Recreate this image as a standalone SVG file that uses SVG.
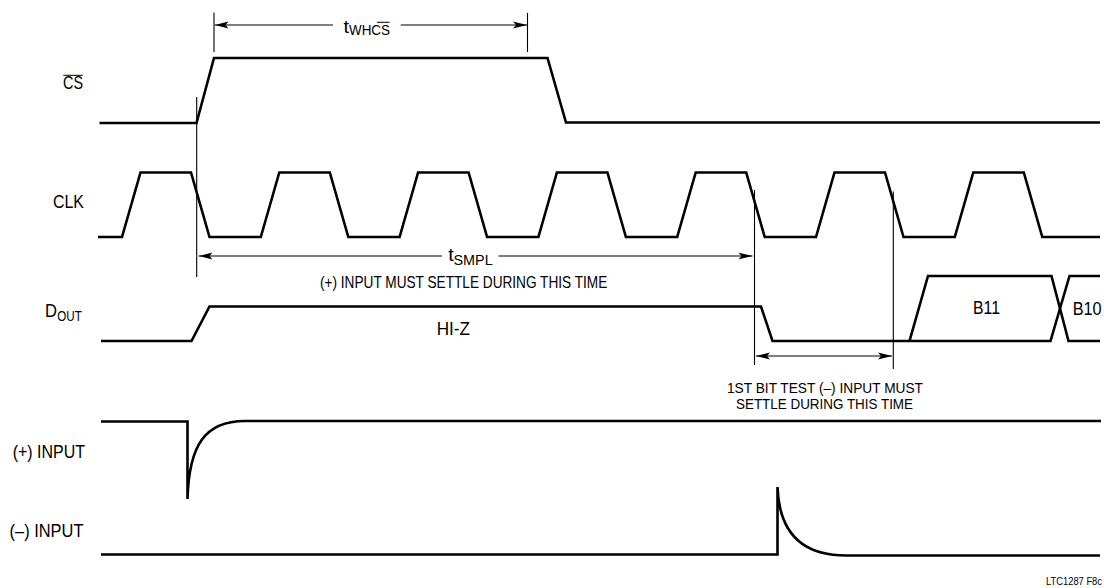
<svg xmlns="http://www.w3.org/2000/svg" width="1104" height="588" viewBox="0 0 1104 588">
<style>
.w{fill:none;stroke:#000;stroke-width:2.6;stroke-linejoin:miter;stroke-linecap:butt}
.t{fill:none;stroke:#000;stroke-width:1.1}
.ol{stroke:#000;stroke-width:1}
text{font-family:"Liberation Sans",Arial,sans-serif;fill:#000}
.lb{font-size:18.5px}
.an{font-size:16.5px}
.an2{font-size:14.2px}
.sb{font-size:14px}
</style>
<defs>
<marker id="ah" markerUnits="userSpaceOnUse" markerWidth="14" markerHeight="8" refX="14" refY="4" orient="auto-start-reverse">
<path d="M0,0.6 L14,4 L0,7.4 L3,4 Z" fill="#000"/>
</marker>
</defs>
<rect width="1104" height="588" fill="#fff"/>

<g id="cs">
<text class="lb" x="63" y="89" textLength="20" lengthAdjust="spacingAndGlyphs">CS</text>
<line class="ol" x1="63.3" y1="75.3" x2="82.7" y2="75.3"/>
<path class="w" d="M99.5,123 H196.5 L214,58 H547.5 L566,122.5 H1100"/>
</g>

<g id="clk">
<text class="lb" x="53" y="208" textLength="31" lengthAdjust="spacingAndGlyphs">CLK</text>
<path class="w" d="M98,237 H122 L140.5,172.5 H191 L209.5,237 H260.8 L279.3,172.5 H329.8 L348.3,237 H399.6 L418.1,172.5 H468.6 L487.1,237 H538.4 L556.9,172.5 H607.4 L625.9,237 H677.2 L695.7,172.5 H746.2 L764.7,237 H816 L834.5,172.5 H885 L903.5,237 H954.8 L973.3,172.5 H1023.8 L1042.3,237 H1100"/>
</g>

<g id="dout">
<text class="lb" x="45" y="317" textLength="12" lengthAdjust="spacingAndGlyphs">D</text>
<text class="sb" x="57.3" y="321" textLength="24.5" lengthAdjust="spacingAndGlyphs">OUT</text>
<path class="w" d="M101,341 H191.5 L209.5,306.5 H761 L772.5,341 H1050.5 L1069.5,276 H1100"/>
<path class="w" d="M909.5,341 L928,276 H1051.5 L1068.5,341 H1100"/>
<text class="lb" x="436.7" y="335" textLength="33.3" lengthAdjust="spacingAndGlyphs">HI-Z</text>
<text class="lb" x="973" y="313.5" textLength="27" lengthAdjust="spacingAndGlyphs">B11</text>
<text class="lb" x="1072.7" y="314.5" textLength="29" lengthAdjust="spacingAndGlyphs">B10</text>
</g>

<g id="pinput">
<text class="lb" x="12.7" y="457.5" textLength="72.3" lengthAdjust="spacingAndGlyphs">(+) INPUT</text>
<path class="w" d="M101,421.5 H187.5 V499 C189,445 205,421 245,421 H1101"/>
</g>

<g id="ninput">
<text class="lb" x="9.6" y="536.5" textLength="73.8" lengthAdjust="spacingAndGlyphs">(–) INPUT</text>
<path class="w" d="M101,554.5 H777.5 V487 C779,530 800,555.5 846,555.5 H1100"/>
</g>

<g id="connectors">
<line class="t" x1="214" y1="12.5" x2="214" y2="52"/>
<line class="t" x1="527.5" y1="13" x2="527.5" y2="52"/>
<line class="t" x1="333" y1="25" x2="214.5" y2="25" marker-end="url(#ah)"/>
<line class="t" x1="400.7" y1="25" x2="527" y2="25" marker-end="url(#ah)"/>
<text class="lb" x="343.5" y="33" textLength="5.5" lengthAdjust="spacingAndGlyphs">t</text>
<text class="sb" x="349" y="34.5" textLength="41" lengthAdjust="spacingAndGlyphs">WHCS</text>
<line class="ol" x1="377" y1="22.3" x2="389.6" y2="22.3"/>

<line class="t" x1="196.7" y1="97" x2="196.7" y2="277"/>
<line class="t" x1="754.5" y1="190" x2="754.5" y2="365"/>
<line class="t" x1="893.3" y1="191.5" x2="893.3" y2="369"/>

<line class="t" x1="442" y1="256" x2="198.5" y2="256" marker-end="url(#ah)"/>
<line class="t" x1="498.5" y1="256" x2="752.5" y2="256" marker-end="url(#ah)"/>
<text class="lb" x="448.3" y="260.5" textLength="5.5" lengthAdjust="spacingAndGlyphs">t</text>
<text class="sb" x="453.5" y="265" textLength="39.2" lengthAdjust="spacingAndGlyphs">SMPL</text>
<text class="an" x="320" y="288.3" textLength="287.3" lengthAdjust="spacingAndGlyphs">(+) INPUT MUST SETTLE DURING THIS TIME</text>

<line class="t" x1="756" y1="356" x2="892" y2="356" marker-start="url(#ah)" marker-end="url(#ah)"/>
<text class="an2" x="727" y="392.5" textLength="196" lengthAdjust="spacingAndGlyphs">1ST BIT TEST (–) INPUT MUST</text>
<text class="an2" x="736" y="408.5" textLength="177" lengthAdjust="spacingAndGlyphs">SETTLE DURING THIS TIME</text>
</g>

<text x="1046" y="585" font-size="10" textLength="56" lengthAdjust="spacingAndGlyphs">LTC1287 F8c</text>
</svg>
